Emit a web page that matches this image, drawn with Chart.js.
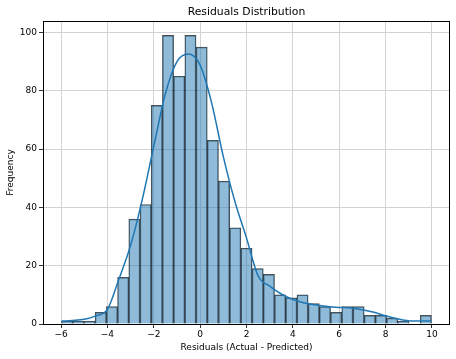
<!DOCTYPE html>
<html>
<head>
<meta charset="utf-8">
<script src="https://cdn.jsdelivr.net/npm/chart.js@4"></script>
<style>
  body { margin: 0; background: #fff; }
  canvas { display: block; }
</style>
</head>
<body>
<canvas id="chart" width="456" height="359"></canvas>
<script>
// histogram bins (33 equal bins between data min and max)
const binStart = -5.98;
const binWidth = 0.4836;
const counts = [1, 1, 1, 4, 6, 16, 36, 41, 75, 99, 85, 99, 95, 63, 49, 33, 26, 19, 17, 10, 9, 10, 7, 6, 4, 6, 6, 3, 3, 2, 1, 0, 3];

// kde curve
const kdeX = [-5.98, -5.5, -5.0, -4.5, -4.0, -3.5, -3.0, -2.5, -2.0, -1.5, -1.0, -0.5, 0.0, 0.5, 1.0, 1.5, 2.0, 2.5, 3.0, 3.5, 4.0, 4.5, 5.0, 5.5, 6.0, 6.5, 7.0, 7.5, 8.0, 8.5, 9.0, 9.5, 9.98];
const kdeY = [1.0, 1.2, 1.6, 2.8, 5.0, 15.5, 27, 42.6, 61, 79, 90, 92.6, 88.8, 75.7, 57.4, 42, 29.5, 16.5, 13, 10.3, 8.4, 7.2, 6.5, 6.0, 5.7, 5.5, 4.9, 4.0, 2.8, 1.8, 1.1, 1.0, 1.1];

const xTicks = [-6, -4, -2, 0, 2, 4, 6, 8, 10];
const yTicks = [0, 20, 40, 60, 80, 100];

Chart.defaults.font.family = "'DejaVu Sans', sans-serif";
Chart.defaults.color = '#000';

const barData = counts.map((c, i) => ({ x: binStart + binWidth * (i + 0.5), y: c }));
const kdeData = kdeX.map((x, i) => ({ x: x, y: kdeY[i] }));

// axes frame on all four sides + title centred over the plot
const frame = {
  id: 'frame',
  afterDatasetsDraw(chart) {
    const a = chart.chartArea;
    const ctx = chart.ctx;
    ctx.save();
    ctx.strokeStyle = '#000';
    ctx.lineWidth = 1;
    ctx.strokeRect(Math.round(a.left) + 0.5, Math.round(a.top) + 0.5,
      Math.round(a.right - a.left) - 1, Math.round(a.bottom - a.top));
    ctx.fillStyle = '#000';
    ctx.font = "10.8px 'DejaVu Sans'";
    ctx.textAlign = 'center';
    ctx.textBaseline = 'middle';
    ctx.fillText('Residuals Distribution', (a.left + a.right) / 2, 12.5);
    ctx.restore();
  }
};

const minus = v => String(v).replace('-', '\u2212');

new Chart(document.getElementById('chart'), {
  type: 'bar',
  data: {
    datasets: [
      {
        type: 'line',
        data: kdeData,
        borderColor: '#1f77b4',
        borderWidth: 1.5,
        pointRadius: 0,
        cubicInterpolationMode: 'monotone',
        order: 0
      },
      {
        type: 'bar',
        data: barData,
        backgroundColor: 'rgba(31, 119, 180, 0.5)',
        borderColor: 'rgba(0, 0, 0, 0.7)',
        borderWidth: 0.8,
        barPercentage: 1,
        categoryPercentage: 1,
        order: 1
      }
    ]
  },
  plugins: [frame],
  options: {
    responsive: false,
    animation: false,
    layout: { padding: { left: 0, right: 6, top: 21, bottom: 0 } },
    plugins: {
      legend: { display: false },
      tooltip: { enabled: false }
    },
    scales: {
      x: {
        type: 'linear',
        min: -6.78,
        max: 10.78,
        offset: false,
        afterBuildTicks: s => { s.ticks = xTicks.map(v => ({ value: v })); },
        afterFit: s => { s.height = 35; },
        ticks: { font: { size: 9 }, padding: 1.6, maxRotation: 0, autoSkip: false, callback: v => minus(v) },
        grid: { offset: false, color: '#d3d3d3', tickColor: '#333', tickLength: 4 },
        border: { display: false },
        title: {
          display: true,
          text: 'Residuals (Actual - Predicted)',
          font: { size: 9 },
          padding: { top: 1, bottom: 5.6 }
        }
      },
      y: {
        min: 0,
        max: 103.95,
        afterBuildTicks: s => { s.ticks = yTicks.map(v => ({ value: v })); },
        afterFit: s => { s.width = 43; },
        ticks: { font: { size: 9 }, padding: 2 },
        grid: { color: '#d3d3d3', tickColor: '#333', tickLength: 4 },
        border: { display: false },
        title: {
          display: true,
          text: 'Frequency',
          font: { size: 9 },
          padding: { top: 5.6, bottom: 0 }
        }
      }
    }
  }
});
</script>
</body>
</html>
